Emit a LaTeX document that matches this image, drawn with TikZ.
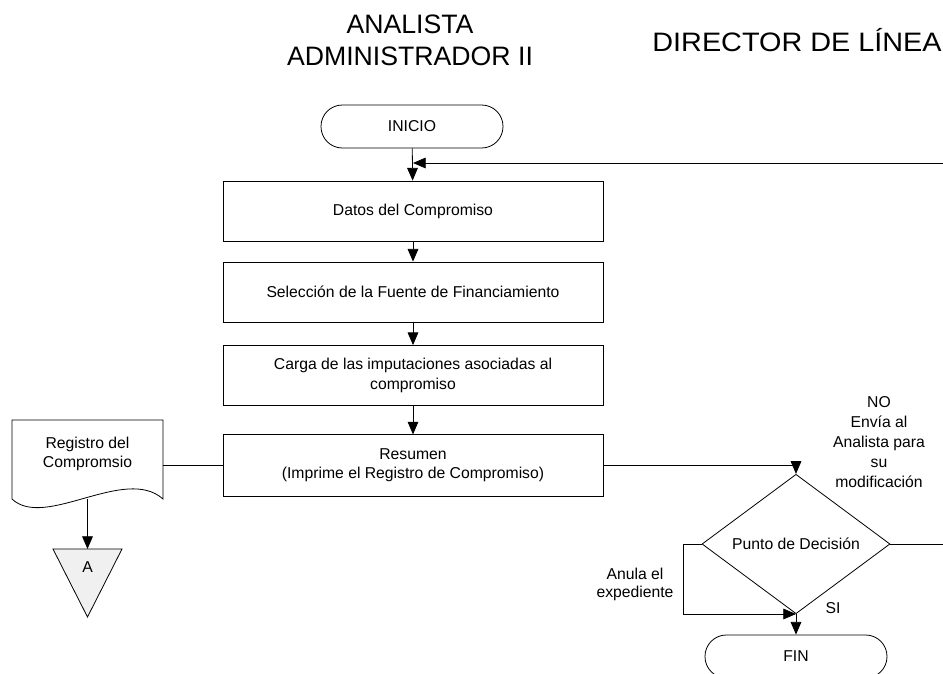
\documentclass[tikz,border=0pt]{standalone}
\usepackage{fontspec}
\setmainfont{Liberation Sans}
\usetikzlibrary{arrows.meta,shapes.geometric}

\begin{document}
\begin{tikzpicture}[
        x=0.75pt, y=-0.75pt, line width=0.6pt,
        every node/.style={font=\fontsize{11.8}{14.5}\selectfont, align=center},
        lane/.style={font=\fontsize{20}{24}\selectfont},
        proc/.style={draw, minimum width=285pt, minimum height=45pt, inner sep=2pt},
        term/.style={draw, rounded corners=16pt, minimum width=136.5pt, minimum height=32.25pt},
        decision/.style={draw, diamond, inner sep=0pt, minimum width=141pt, minimum height=84pt},
        flow/.style={-{Triangle[length=9.5pt,width=8pt]}}
    ]
    \useasboundingbox (0,0) rectangle (943,674);
    \clip (0,0) rectangle (943,674);

    % lanes
    \node[lane] (analista) at (410,40.7) {ANALISTA\\ADMINISTRADOR II};
    \node[lane, anchor=base, xscale=1.08] (director) at (797,52) {DIRECTOR DE LÍNEA};

    % main column
    \node[term] (inicio) at (412,126.5) {INICIO};
    \node[proc] (datos) at (413,211) {Datos del Compromiso};
    \node[proc] (fuente) at (413,292) {Selección de la Fuente de Financiamiento};
    \node[proc] (carga) at (413,375.5) {Carga de las imputaciones asociadas al\\compromiso};
    \node[proc, minimum height=46pt] (resumen) at (413,465.5) {Resumen\\(Imprime el Registro de Compromiso)};

    % document and connector A
    \draw (12,420) -- (163,420) -- (163,499)
        .. controls (125,465) and (45,530) .. (12,499) -- cycle;
    \node (doc) at (87.5,454) {Registro del\\Compromsio};
    \coordinate (docE) at (163,465.5);
    \coordinate (docS) at (87.5,499);
    \coordinate (tri) at (87.5,549);
    \draw[fill=gray!12] (53,549) -- (122,549) -- (87.5,617) -- cycle;
    \node (conA) at (87.5,567) {A};

    % director column
    \node[decision] (punto) at (796,544) {Punto de Decisión};
    \node[term] (fin) at (796,656.5) {FIN};
    \coordinate (back) at (943,163);
    \coordinate (no) at (943,544);
    \coordinate (anula) at (683,614);

    % connectors
    \draw[flow] (inicio) -- (datos);
    \draw[flow] (back) -- (back -| datos.north);
    \draw[flow] (datos) -- (fuente);
    \draw[flow] (fuente) -- (carga);
    \draw[flow] (carga) -- (resumen);
    \draw (resumen.west) -- (docE);
    \draw[flow] (docS) -- (tri);
    \draw[flow] (resumen.east) -| (punto.north);
    \draw (punto.east) -- (no);
    \draw[flow] (punto.west) -| (anula) -- (anula -| punto.south);
    \draw[flow] (punto.south) -- (fin.north);

    % labels
    \node[font=\fontsize{11.8}{15}\selectfont] (nolabel) at (879,442) {NO\\Envía al\\Analista para\\su\\modificación};
    \node[font=\fontsize{11.8}{13.5}\selectfont] (anulalabel) at (635,584) {Anula el\\expediente};
    \node (si) at (833,608) {SI};
\end{tikzpicture}
\end{document}
